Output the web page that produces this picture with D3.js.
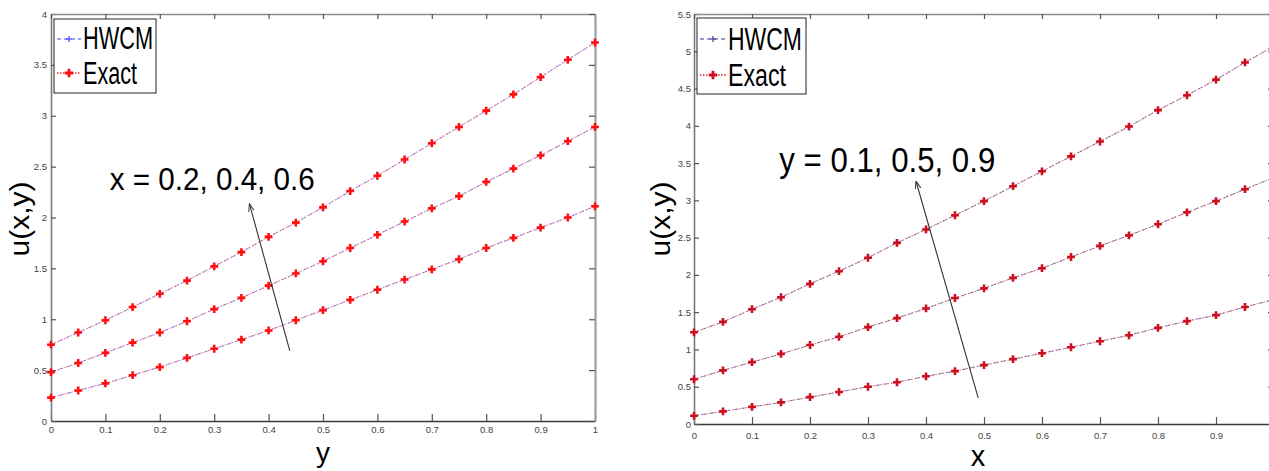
<!DOCTYPE html>
<html><head><meta charset="utf-8">
<script src="https://cdn.jsdelivr.net/npm/d3@7"></script>
<style>body{margin:0;background:#fff}svg{display:block}</style>
</head><body><svg id="c" width="1269" height="471"></svg>
<script>
// ---------------- DATA ----------------
const tGrid = [0,0.05,0.1,0.15,0.2,0.25,0.3,0.35,0.4,0.45,0.5,0.55,0.6,0.65,0.7,0.75,0.8,0.85,0.9,0.95,1];
// left panel: u(x,y) vs y for x = 0.2, 0.4, 0.6
const uLeftX02 = [0.23,0.30,0.37,0.45,0.53,0.62,0.71,0.80,0.89,0.99,1.09,1.19,1.29,1.39,1.49,1.59,1.70,1.80,1.90,2.00,2.11];
const uLeftX04 = [0.48,0.57,0.67,0.77,0.87,0.98,1.10,1.21,1.33,1.45,1.57,1.70,1.83,1.96,2.09,2.21,2.35,2.48,2.61,2.75,2.89];
const uLeftX06 = [0.75,0.87,0.99,1.12,1.25,1.38,1.52,1.66,1.81,1.95,2.10,2.26,2.41,2.57,2.73,2.89,3.05,3.21,3.38,3.55,3.72];
// right panel: u(x,y) vs x for y = 0.1, 0.5, 0.9
const uRightY01 = [0.11,0.17,0.23,0.29,0.36,0.43,0.50,0.56,0.64,0.71,0.79,0.87,0.95,1.03,1.11,1.19,1.29,1.38,1.46,1.57,1.67];
const uRightY05 = [0.60,0.72,0.83,0.94,1.06,1.17,1.30,1.42,1.55,1.69,1.82,1.96,2.09,2.24,2.39,2.53,2.68,2.84,2.99,3.15,3.31];
const uRightY09 = [1.23,1.37,1.54,1.70,1.88,2.05,2.23,2.43,2.61,2.80,2.99,3.19,3.39,3.59,3.79,3.99,4.21,4.41,4.62,4.85,5.07];
const leftXTicks = [0,0.1,0.2,0.3,0.4,0.5,0.6,0.7,0.8,0.9,1];
const leftYTicks = [0,0.5,1,1.5,2,2.5,3,3.5,4];
const rightXTicks = [0,0.1,0.2,0.3,0.4,0.5,0.6,0.7,0.8,0.9];
const rightYTicks = [0,0.5,1,1.5,2,2.5,3,3.5,4,4.5,5,5.5];
const legendNames = ["HWCM","Exact"];
const leftNote = "x = 0.2, 0.4, 0.6";
const rightNote = "y = 0.1, 0.5, 0.9";
const yLabel = "u(x,y)";
const leftXLabel = "y";
const rightXLabel = "x";

// ---------------- DRAW ----------------
const svg = d3.select("#c");
const FONT = "'Liberation Sans Narrow','Arial Narrow','Liberation Sans',Arial,sans-serif";
const defs = svg.append("defs");
defs.append("marker").attr("id","arr").attr("viewBox","0 0 10 10").attr("refX",9).attr("refY",5)
  .attr("markerWidth",8).attr("markerHeight",8).attr("markerUnits","userSpaceOnUse").attr("orient","auto")
  .append("path").attr("d","M0,1.5 L10,5 L0,8.5").attr("fill","none").attr("stroke","#333").attr("stroke-width",1.2);

function panel(o){
  const g = svg.append("g");
  const x = d3.scaleLinear().domain([0,1]).range(o.xr);
  const y = d3.scaleLinear().domain(o.yd).range(o.yr);
  const fmt = d3.format("");

  // axes
  const bottom = g.append("g").attr("transform",`translate(0,${o.yr[0]})`)
    .call(d3.axisBottom(x).tickValues(o.xTicks).tickSize(-7).tickSizeOuter(0).tickPadding(o.xPad).tickFormat(fmt));
  const left = g.append("g").attr("transform",`translate(${o.xr[0]},0)`)
    .call(d3.axisLeft(y).tickValues(o.yTicks).tickSize(-5).tickSizeOuter(0).tickPadding(o.yPad).tickFormat(fmt));
  const top = g.append("g").attr("transform",`translate(0,${o.yr[1]})`)
    .call(d3.axisTop(x).tickValues(o.xTicks).tickSize(-5).tickSizeOuter(0).tickFormat(""));
  const right = g.append("g").attr("transform",`translate(${o.xr[1]},0)`)
    .call(d3.axisRight(y).tickValues(o.yTicks).tickSize(-6).tickSizeOuter(0).tickFormat(""));
  [[bottom,"#3a3a3a",1.6],[left,"#7a7a7a",1.6],[top,"#8a8a8a",1.6],[right,"#a0a0a0",2.2]].forEach(([a,c,w])=>{
    a.select(".domain").attr("stroke",c).attr("stroke-width",w);
    a.selectAll(".tick line").attr("stroke","#555").attr("stroke-width",1.2);
    a.selectAll("text").attr("font-family",FONT).attr("font-size",9.5).attr("fill","#444");
  });

  // series
  const line = d3.line().x((d,i)=>x(tGrid[i])).y(d=>y(d));
  o.series.forEach(s=>{
    // HWCM: blue dashed with small plus markers
    g.append("path").datum(s).attr("d",line).attr("fill","none")
      .attr("stroke",o.blue).attr("stroke-width",1).attr("stroke-dasharray","5,3").attr("opacity",0.55);
    g.append("g").selectAll("path").data(s).join("path")
      .attr("transform",(d,i)=>`translate(${x(tGrid[i])},${y(d)})`)
      .attr("d","M-3,0H3M0,-3V3").attr("stroke",o.blue).attr("stroke-width",1);
    // Exact: red dotted with thick plus markers
    g.append("path").datum(s).attr("d",line).attr("fill","none")
      .attr("stroke",o.red).attr("stroke-width",1.1).attr("stroke-dasharray","1.5,2").attr("opacity",0.6);
    g.append("g").selectAll("path").data(s).join("path")
      .attr("transform",(d,i)=>`translate(${x(tGrid[i])},${y(d)})`)
      .attr("d",d3.symbol(d3.symbolCross,34)).attr("fill",o.mark);
  });

  // axis labels
  g.append("text").attr("transform",`translate(${o.yLabPos[0]},${o.yLabPos[1]}) rotate(-90)`)
    .attr("text-anchor","middle").attr("font-family",FONT).attr("font-size",27)
    .attr("textLength",75).attr("lengthAdjust","spacingAndGlyphs").text(yLabel);
  g.append("text").attr("x",x(o.xLab[0])).attr("y",o.xLab[1]).attr("text-anchor","middle")
    .attr("font-family",FONT).attr("font-size",o.xLab[2]).text(o.xLabText);

  // annotation
  g.append("text").attr("x",x(o.note.x)).attr("y",y(o.note.u)).attr("font-family",FONT)
    .attr("font-size",o.note.fs).attr("textLength",o.note.len).attr("lengthAdjust","spacingAndGlyphs").text(o.note.text);
  g.append("line").attr("x1",x(o.arrow[0])).attr("y1",y(o.arrow[1])).attr("x2",x(o.arrow[2])).attr("y2",y(o.arrow[3]))
    .attr("stroke","#333").attr("stroke-width",1.1).attr("marker-end","url(#arr)");

  // legend
  const L = o.leg;
  g.append("rect").attr("x",L.x).attr("y",L.y).attr("width",L.w).attr("height",L.h)
    .attr("fill","#fff").attr("stroke","#222").attr("stroke-width",1);
  legendNames.forEach((nm,i)=>{
    const cy = L.rows[i];
    const isH = i===0;
    g.append("line").attr("x1",L.x+3).attr("x2",L.x+L.sw).attr("y1",cy).attr("y2",cy)
      .attr("stroke",isH?o.blue:o.red).attr("stroke-width",isH?1.1:1.6)
      .attr("stroke-dasharray",isH?"4,3":"1.5,1.5");
    const mx = L.x+3+(L.sw-3)/2;
    if(isH){
      g.append("path").attr("transform",`translate(${mx},${cy})`).attr("d","M-3,0H3M0,-3V3")
        .attr("stroke",o.blue).attr("stroke-width",1.2);
    } else {
      g.append("path").attr("transform",`translate(${mx},${cy})`).attr("d",d3.symbol(d3.symbolCross,40)).attr("fill",o.mark);
    }
    g.append("text").attr("x",L.tx).attr("y",L.base[i]).attr("font-family",FONT).attr("font-size",L.fs)
      .attr("textLength",L.tl[i]).attr("lengthAdjust","spacingAndGlyphs").text(nm);
  });
}

panel({
  xr:[51,595], yd:[0,4], yr:[421,14], xTicks:leftXTicks, yTicks:leftYTicks, xPad:5.5, yPad:4,
  series:[uLeftX02,uLeftX04,uLeftX06], blue:"#3344ff", red:"#ff2233", mark:"#ff1010",
  yLabPos:[29,219], xLab:[0.5,462,28], xLabText:leftXLabel,
  note:{x:0.108,u:2.27,fs:32,len:205,text:leftNote},
  arrow:[0.439,0.69,0.365,2.13],
  leg:{x:54,y:19,w:102,h:74,sw:27,rows:[39,73],tx:83,base:[49,84],fs:31,tl:[70,54]}
});
panel({
  xr:[694,1274], yd:[0,5.5], yr:[424,14], xTicks:rightXTicks, yTicks:rightYTicks, xPad:8, yPad:3,
  series:[uRightY01,uRightY05,uRightY09], blue:"#333399", red:"#cc2233", mark:"#cc1020",
  yLabPos:[670,219], xLab:[0.4897,466,29], xLabText:rightXLabel,
  note:{x:0.147,u:3.38,fs:35,len:216,text:rightNote},
  arrow:[0.49,0.35,0.383,3.25],
  leg:{x:697,y:18,w:109,h:76,sw:29,rows:[39,75],tx:728,base:[50,86],fs:31,tl:[74,58]}
});
</script></body></html>
